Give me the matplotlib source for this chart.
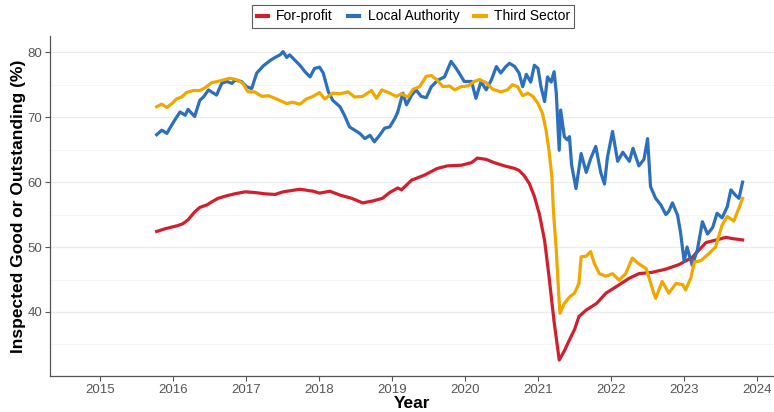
import matplotlib
matplotlib.use("Agg")
from matplotlib import pyplot as plt
from matplotlib.ticker import MultipleLocator

# values (decimal year, % good or outstanding)
forprofit_year = [2015.78, 2015.89, 2016.07, 2016.14, 2016.21, 2016.30, 2016.37, 2016.47, 2016.54, 2016.62,
                  2016.74, 2016.85, 2016.99, 2017.12, 2017.26, 2017.40, 2017.51, 2017.74, 2017.92, 2018.01,
                  2018.15, 2018.29, 2018.45, 2018.60, 2018.74, 2018.87, 2018.97, 2019.08, 2019.13, 2019.27,
                  2019.45, 2019.62, 2019.76, 2019.95, 2020.09, 2020.17, 2020.29, 2020.40, 2020.54, 2020.68,
                  2020.74, 2020.81, 2020.88, 2020.95, 2021.02, 2021.09, 2021.15, 2021.22, 2021.29, 2021.36,
                  2021.43, 2021.50, 2021.56, 2021.66, 2021.80, 2021.93, 2022.07, 2022.25, 2022.38, 2022.56,
                  2022.75, 2022.93, 2023.11, 2023.20, 2023.30, 2023.48, 2023.57, 2023.66, 2023.80]
forprofit = [52.4, 52.8, 53.3, 53.6, 54.2, 55.4, 56.1, 56.5, 57.0, 57.5,
             57.9, 58.2, 58.5, 58.4, 58.2, 58.1, 58.5, 58.9, 58.6, 58.3,
             58.6, 58.0, 57.5, 56.8, 57.1, 57.5, 58.4, 59.1, 58.8, 60.3,
             61.1, 62.1, 62.5, 62.6, 63.0, 63.7, 63.5, 63.0, 62.5, 62.1,
             61.8, 61.0, 59.8, 57.8, 55.0, 51.0, 45.5, 38.5, 32.6, 34.0,
             35.7, 37.3, 39.3, 40.3, 41.3, 42.9, 43.9, 45.2, 45.9, 46.1,
             46.6, 47.3, 48.4, 49.5, 50.7, 51.2, 51.5, 51.3, 51.1]

local_year = [2015.78, 2015.85, 2015.92, 2015.96, 2016.03, 2016.10, 2016.17, 2016.21, 2016.30, 2016.37,
              2016.42, 2016.49, 2016.53, 2016.60, 2016.67, 2016.74, 2016.81, 2016.85, 2016.94, 2017.01,
              2017.08, 2017.15, 2017.24, 2017.33, 2017.40, 2017.47, 2017.51, 2017.56, 2017.60, 2017.67,
              2017.74, 2017.81, 2017.88, 2017.94, 2018.01, 2018.06, 2018.13, 2018.19, 2018.29, 2018.35,
              2018.42, 2018.49, 2018.56, 2018.63, 2018.70, 2018.76, 2018.83, 2018.90, 2018.97, 2019.04,
              2019.08, 2019.15, 2019.20, 2019.27, 2019.33, 2019.40, 2019.47, 2019.54, 2019.63, 2019.72,
              2019.81, 2019.88, 2019.92, 2019.99, 2020.09, 2020.15, 2020.22, 2020.29, 2020.36, 2020.43,
              2020.49, 2020.56, 2020.61, 2020.68, 2020.74, 2020.79, 2020.84, 2020.90, 2020.95, 2021.00,
              2021.04, 2021.09, 2021.13, 2021.18, 2021.22, 2021.25, 2021.29, 2021.31, 2021.36, 2021.40,
              2021.43, 2021.46, 2021.52, 2021.59, 2021.66, 2021.72, 2021.79, 2021.86, 2021.91, 2021.95,
              2022.02, 2022.09, 2022.16, 2022.25, 2022.30, 2022.38, 2022.45, 2022.50, 2022.54, 2022.61,
              2022.68, 2022.75, 2022.79, 2022.84, 2022.91, 2022.95, 2023.00, 2023.04, 2023.11, 2023.18,
              2023.25, 2023.32, 2023.39, 2023.45, 2023.52, 2023.59, 2023.64, 2023.71, 2023.75, 2023.80]
local = [67.3, 68.0, 67.5, 68.3, 69.6, 70.8, 70.3, 71.2, 70.1, 72.6,
         73.1, 74.2, 73.9, 73.4, 75.2, 75.5, 75.2, 75.7, 75.5, 74.7,
         74.4, 76.8, 77.9, 78.7, 79.2, 79.6, 80.1, 79.2, 79.6, 78.8,
         78.0, 77.0, 76.2, 77.5, 77.7, 76.8, 73.9, 72.6, 71.6, 70.3,
         68.5, 68.0, 67.5, 66.7, 67.2, 66.2, 67.2, 68.3, 68.5, 69.8,
         70.8, 73.7, 71.9, 73.4, 74.2, 73.2, 73.0, 74.7, 75.7, 76.2,
         78.6, 77.5, 76.8, 75.5, 75.5, 72.9, 75.5, 74.2, 75.7, 77.8,
         76.8, 77.8, 78.3, 77.8, 76.8, 74.7, 76.6, 75.4, 78.0, 77.5,
         74.7, 72.4, 76.2, 75.4, 77.0, 73.7, 64.9, 71.1, 67.0, 66.5,
         67.0, 62.6, 59.0, 64.4, 61.5, 63.6, 65.5, 61.4, 59.7, 63.8,
         67.8, 63.2, 64.6, 63.2, 65.2, 62.5, 63.5, 66.7, 59.3, 57.5,
         56.5, 55.0, 55.5, 56.8, 54.9, 52.3, 47.8, 50.0, 47.2, 49.5,
         53.9, 52.0, 53.0, 55.2, 54.5, 56.2, 58.8, 57.9, 57.5, 60.0]

third_year = [2015.78, 2015.85, 2015.92, 2015.99, 2016.05, 2016.12, 2016.19, 2016.28, 2016.37, 2016.44,
              2016.53, 2016.65, 2016.78, 2016.87, 2016.96, 2017.03, 2017.12, 2017.22, 2017.31, 2017.40,
              2017.56, 2017.64, 2017.74, 2017.83, 2017.92, 2018.01, 2018.08, 2018.19, 2018.29, 2018.40,
              2018.49, 2018.60, 2018.72, 2018.79, 2018.86, 2018.95, 2019.06, 2019.13, 2019.22, 2019.29,
              2019.38, 2019.47, 2019.54, 2019.61, 2019.70, 2019.79, 2019.86, 2019.95, 2020.04, 2020.13,
              2020.20, 2020.29, 2020.38, 2020.49, 2020.58, 2020.65, 2020.72, 2020.79, 2020.86, 2020.93,
              2021.00, 2021.06, 2021.11, 2021.15, 2021.19, 2021.21, 2021.25, 2021.28, 2021.30, 2021.36,
              2021.43, 2021.50, 2021.56, 2021.59, 2021.66, 2021.72, 2021.77, 2021.84, 2021.93, 2022.02,
              2022.11, 2022.20, 2022.29, 2022.38, 2022.48, 2022.57, 2022.61, 2022.70, 2022.79, 2022.89,
              2022.98, 2023.02, 2023.09, 2023.14, 2023.23, 2023.34, 2023.43, 2023.52, 2023.59, 2023.68,
              2023.75, 2023.80]
third = [71.6, 72.0, 71.5, 72.1, 72.8, 73.1, 73.8, 74.1, 74.1, 74.5,
         75.3, 75.6, 76.0, 75.8, 75.2, 73.9, 73.9, 73.2, 73.3, 72.9,
         72.1, 72.3, 72.0, 72.8, 73.2, 73.8, 72.8, 73.7, 73.6, 73.9,
         73.1, 73.2, 74.1, 72.9, 74.2, 73.8, 73.2, 73.6, 73.1, 74.3,
         74.7, 76.3, 76.4, 75.8, 74.7, 74.8, 74.2, 74.7, 74.8, 75.5,
         75.8, 75.3, 74.3, 73.9, 74.2, 75.0, 74.7, 73.3, 73.7, 73.2,
         72.1, 70.6, 68.0, 64.9, 60.8, 55.7, 49.5, 43.4, 39.8, 41.3,
         42.3, 42.9, 44.4, 48.5, 48.6, 49.3, 47.5, 45.9, 45.5, 45.9,
         44.9, 45.9, 48.3, 47.4, 46.7, 43.4, 42.1, 44.7, 42.9, 44.4,
         44.2, 43.4, 45.2, 47.7, 47.9, 49.0, 50.0, 53.4, 54.7, 54.0,
         56.0, 57.5]

year_ticks = list(range(2015, 2025))

plt.rcParams['font.family'] = ['Liberation Sans', 'DejaVu Sans']

fig = plt.figure(figsize=(7.74, 4.12), dpi=100)
ax = fig.add_axes([0.0646, 0.0874, 0.9354, 0.8252])

ax.plot(forprofit_year, forprofit, color='#d11f2d', lw=2.3, label='For-profit', solid_joinstyle='round')
ax.plot(local_year, local, color='#2b6fbd', lw=2.3, label='Local Authority', solid_joinstyle='round')
ax.plot(third_year, third, color='#f0a800', lw=2.3, label='Third Sector', solid_joinstyle='round')

ax.set_xlim(2014.32, 2024.23)
ax.set_ylim(30.14, 82.5)
ax.set_xticks(year_ticks)
ax.set_yticks([40, 50, 60, 70, 80])
ax.yaxis.set_minor_locator(MultipleLocator(5))

ax.grid(axis='y', which='major', color='#ebebeb', lw=0.9)
ax.grid(axis='y', which='minor', color='#f4f4f4', lw=0.7)
ax.set_axisbelow(True)

for s in ['top', 'right']:
    ax.spines[s].set_visible(False)
for s in ['left', 'bottom']:
    ax.spines[s].set_color('#555555')
    ax.spines[s].set_linewidth(0.9)

ax.tick_params(axis='both', which='major', colors='#555555', labelcolor='#555555', labelsize=9.5,
               length=3.5, width=0.8, pad=2)
ax.tick_params(axis='y', which='minor', length=0)

ax.set_xlabel('Year', fontsize=12.5, fontweight='bold', labelpad=0)
ax.set_ylabel('Inspected Good or Outstanding (%)', fontsize=12.5, fontweight='bold', labelpad=1)

leg = fig.legend(loc='upper center', bbox_to_anchor=(0.534, 1.004), ncol=3, fontsize=10,
                 frameon=True, fancybox=False, edgecolor='#333333', handlelength=0.8,
                 handletextpad=0.6, columnspacing=1.1, borderpad=0.3)
leg.get_frame().set_linewidth(0.8)
for line in leg.get_lines():
    line.set_linewidth(3)

fig.savefig('out.png', dpi=100)
